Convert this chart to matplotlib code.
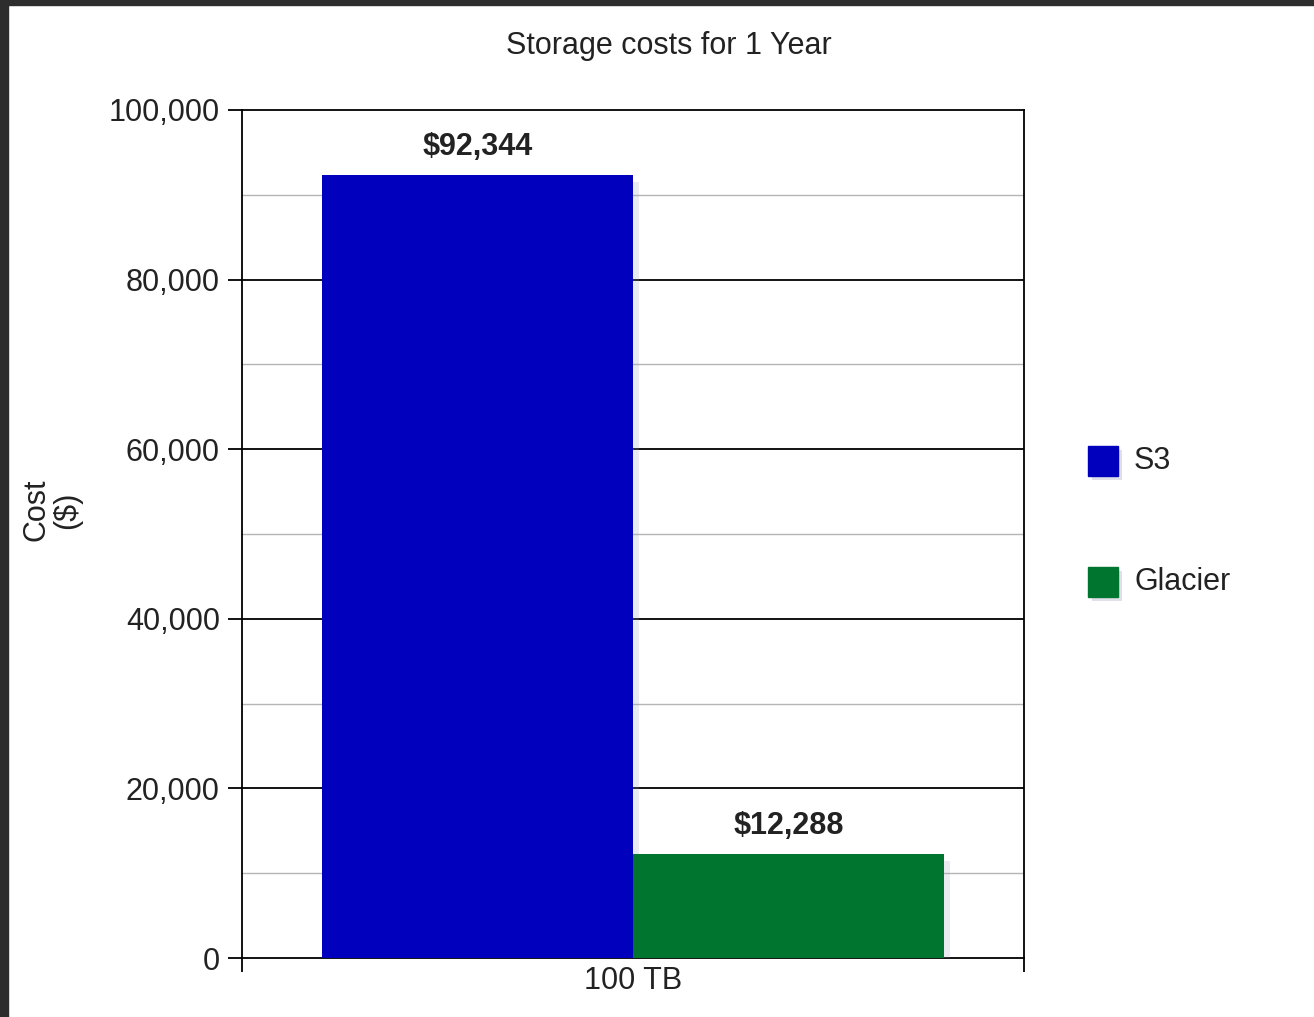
import matplotlib
matplotlib.use("Agg")
import matplotlib.pyplot as plt
import matplotlib.patheffects as pe
from matplotlib.patches import Rectangle
from matplotlib.ticker import FuncFormatter

# --- data ---
categories = ["100 TB"]
series = ["S3", "Glacier"]
costs = [92344, 12288]
colors = ["#0000bd", "#00752f"]
y_ticks = [0, 20000, 40000, 60000, 80000, 100000]
y_minor = [10000, 30000, 50000, 70000, 90000]

plt.rcParams["font.family"] = ["Liberation Sans", "DejaVu Sans"]
FS = 22
TXT = "#222222"

fig = plt.figure(figsize=(13.14, 10.17), dpi=100)
fig.patch.set_facecolor("white")

# dark screenshot frame on top and left
fig.add_artist(Rectangle((0, 1 - 5 / 1017), 1, 5 / 1017, transform=fig.transFigure,
                         color="#2d2d2d", zorder=10))
fig.add_artist(Rectangle((0, 0), 8 / 1314, 1, transform=fig.transFigure,
                         color="#2d2d2d", zorder=10))

ax = fig.add_axes([242 / 1314, 1 - 958 / 1017, 782 / 1314, 848 / 1017])

# gridlines: black majors, grey minors
for v in y_ticks[1:-1]:
    ax.axhline(v, color="black", lw=1.3, zorder=1)
for v in y_minor:
    ax.axhline(v, color="#b5b5b5", lw=1.0, zorder=1)

width = 0.398
shadow = [pe.SimplePatchShadow(offset=(4, -5), shadow_rgbFace="#9999bb", alpha=0.2),
          pe.Normal()]
for i, (name, val, col) in enumerate(zip(series, costs, colors)):
    xpos = (i - 0.5) * width
    b = ax.bar(xpos, val, width=width, color=col, zorder=3, label=name)
    for p in b:
        p.set_path_effects(shadow)
    ax.annotate("${:,}".format(val), (xpos, val), xytext=(0, 9),
                textcoords="offset points", ha="center", va="bottom",
                fontsize=FS, fontweight="bold", color=TXT, zorder=4)

ax.set_xlim(-0.5, 0.5)
ax.set_ylim(0, 100000)
ax.set_yticks(y_ticks)
ax.yaxis.set_major_formatter(FuncFormatter(lambda v, p: "{:,}".format(int(v))))
ax.tick_params(axis="y", length=10, width=1.3, labelsize=FS, labelcolor=TXT, pad=6)

ax.set_xticks([-0.5, 0.5])
ax.set_xticklabels(["", ""])
ax.set_xticks([0], minor=True)
ax.set_xticklabels(categories, minor=True)
ax.tick_params(axis="x", which="major", length=10, width=1.3)
ax.tick_params(axis="x", which="minor", length=0, labelsize=FS, labelcolor=TXT, pad=6)

for s in ax.spines.values():
    s.set_linewidth(1.3)
    s.set_color("black")

fig.text(669 / 1314, 1 - 46 / 1017, "Storage costs for 1 Year", ha="center", va="center",
         fontsize=FS, color=TXT)
fig.text(52 / 1314, 1 - 510 / 1017, "Cost\n($)", ha="center", va="center",
         rotation=90, fontsize=FS, color=TXT, linespacing=1.0)

# legend drawn by hand to match the spaced-out layout
leg_y = [461, 582]
for name, col, yy in zip(series, colors, leg_y):
    r = Rectangle((1088 / 1314, 1 - (yy + 15) / 1017), 30 / 1314, 30 / 1017,
                  transform=fig.transFigure, color=col)
    r.set_path_effects([pe.SimplePatchShadow(offset=(3, -3), shadow_rgbFace="#9999bb", alpha=0.3),
                        pe.Normal()])
    fig.add_artist(r)
    fig.text(1134 / 1314, 1 - yy / 1017, name, ha="left", va="center",
             fontsize=FS, color=TXT)

fig.savefig("out.png", dpi=100, facecolor="white")
